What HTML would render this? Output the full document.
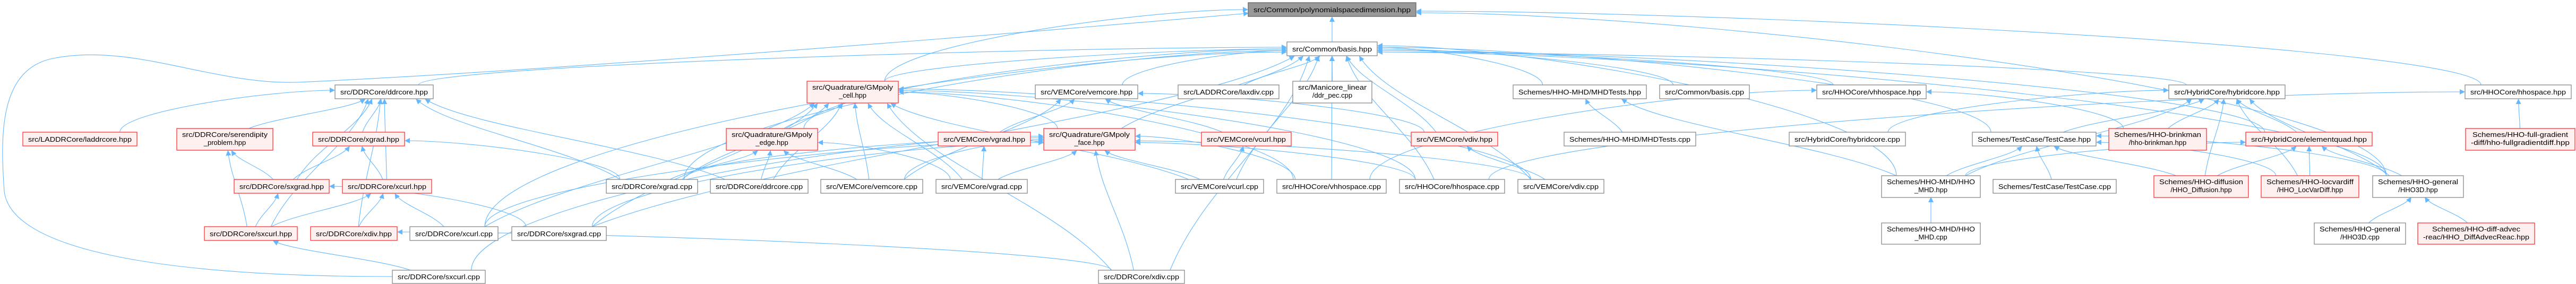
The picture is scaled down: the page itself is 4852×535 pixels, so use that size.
<!DOCTYPE html>
<html><head><meta charset="utf-8"><style>
html,body{margin:0;padding:0;background:#fff;width:4852px;height:535px;overflow:hidden}
svg{display:block}
text{font-family:"Liberation Sans",sans-serif;font-size:13px;fill:#000}
.w{fill:#fff;stroke:#888;stroke-width:1.3}
.r{fill:#fff0f0;stroke:#f33;stroke-width:1.3}
.g{fill:#999;stroke:#666;stroke-width:1.3}
#E path{fill:none;stroke:#63b8ff;stroke-width:1.1}
</style></head><body>
<svg id="S" width="4852" height="535" viewBox="0 0 4852 535" xmlns="http://www.w3.org/2000/svg">
<defs><marker id="a" viewBox="0 0 10 10" refX="9" refY="5" markerWidth="10" markerHeight="10" markerUnits="userSpaceOnUse" orient="auto"><path d="M0,0 L10,5 L0,10 z" fill="#63b8ff"/></marker></defs>
<g id="E"><path marker-end="url(#a)" d="M739,521 C300,521 20,470 8,360 C0,250 0,130 100,110 C250,80 400,160 560,155 C900,140 1600,90 2351,25"/></g>
<g id="N">
<rect class="g" x="2351" y="5" width="316" height="26"/><text x="2509" y="23" text-anchor="middle" textLength="296" lengthAdjust="spacingAndGlyphs">src/Common/polynomialspacedimension.hpp</text>
<rect class="w" x="2424" y="79" width="170" height="26"/><text x="2509" y="97" text-anchor="middle" textLength="150" lengthAdjust="spacingAndGlyphs">src/Common/basis.hpp</text>
<rect class="w" x="631" y="160" width="185" height="26"/><text x="723.5" y="178" text-anchor="middle" textLength="165" lengthAdjust="spacingAndGlyphs">src/DDRCore/ddrcore.hpp</text>
<rect class="r" x="1520" y="153" width="172" height="41"/><text x="1606" y="169" text-anchor="middle" textLength="152" lengthAdjust="spacingAndGlyphs">src/Quadrature/GMpoly</text><text x="1606" y="184" text-anchor="middle">_cell.hpp</text>
<rect class="w" x="1950" y="160" width="193" height="26"/><text x="2046.5" y="178" text-anchor="middle" textLength="173" lengthAdjust="spacingAndGlyphs">src/VEMCore/vemcore.hpp</text>
<rect class="w" x="2219" y="160" width="190" height="26"/><text x="2314" y="178" text-anchor="middle" textLength="170" lengthAdjust="spacingAndGlyphs">src/LADDRCore/laxdiv.cpp</text>
<rect class="w" x="2435" y="153" width="149" height="41"/><text x="2509.5" y="169" text-anchor="middle" textLength="129" lengthAdjust="spacingAndGlyphs">src/Manicore_linear</text><text x="2509.5" y="184" text-anchor="middle">/ddr_pec.cpp</text>
<rect class="w" x="2850" y="160" width="251" height="26"/><text x="2975.5" y="178" text-anchor="middle" textLength="231" lengthAdjust="spacingAndGlyphs">Schemes/HHO-MHD/MHDTests.hpp</text>
<rect class="w" x="3126" y="160" width="169" height="26"/><text x="3210.5" y="178" text-anchor="middle" textLength="149" lengthAdjust="spacingAndGlyphs">src/Common/basis.cpp</text>
<rect class="w" x="3422" y="160" width="206" height="26"/><text x="3525" y="178" text-anchor="middle" textLength="186" lengthAdjust="spacingAndGlyphs">src/HHOCore/vhhospace.hpp</text>
<rect class="w" x="4085" y="160" width="219" height="26"/><text x="4194.5" y="178" text-anchor="middle" textLength="199" lengthAdjust="spacingAndGlyphs">src/HybridCore/hybridcore.hpp</text>
<rect class="w" x="4643" y="160" width="200" height="26"/><text x="4743" y="178" text-anchor="middle" textLength="180" lengthAdjust="spacingAndGlyphs">src/HHOCore/hhospace.hpp</text>
<rect class="r" x="43" y="249" width="215" height="26"/><text x="150.5" y="267" text-anchor="middle" textLength="195" lengthAdjust="spacingAndGlyphs">src/LADDRCore/laddrcore.hpp</text>
<rect class="r" x="333" y="242" width="181" height="41"/><text x="423.5" y="258" text-anchor="middle" textLength="161" lengthAdjust="spacingAndGlyphs">src/DDRCore/serendipity</text><text x="423.5" y="273" text-anchor="middle">_problem.hpp</text>
<rect class="r" x="589" y="249" width="173" height="26"/><text x="675.5" y="267" text-anchor="middle" textLength="153" lengthAdjust="spacingAndGlyphs">src/DDRCore/xgrad.hpp</text>
<rect class="r" x="1368" y="242" width="172" height="41"/><text x="1454" y="258" text-anchor="middle" textLength="152" lengthAdjust="spacingAndGlyphs">src/Quadrature/GMpoly</text><text x="1454" y="273" text-anchor="middle">_edge.hpp</text>
<rect class="r" x="1767" y="249" width="174" height="26"/><text x="1854" y="267" text-anchor="middle" textLength="154" lengthAdjust="spacingAndGlyphs">src/VEMCore/vgrad.hpp</text>
<rect class="r" x="1966" y="242" width="172" height="41"/><text x="2052" y="258" text-anchor="middle" textLength="152" lengthAdjust="spacingAndGlyphs">src/Quadrature/GMpoly</text><text x="2052" y="273" text-anchor="middle">_face.hpp</text>
<rect class="r" x="2263" y="249" width="169" height="26"/><text x="2347.5" y="267" text-anchor="middle" textLength="149" lengthAdjust="spacingAndGlyphs">src/VEMCore/vcurl.hpp</text>
<rect class="r" x="2658" y="249" width="163" height="26"/><text x="2739.5" y="267" text-anchor="middle" textLength="143" lengthAdjust="spacingAndGlyphs">src/VEMCore/vdiv.hpp</text>
<rect class="w" x="2946" y="249" width="248" height="26"/><text x="3070" y="267" text-anchor="middle" textLength="228" lengthAdjust="spacingAndGlyphs">Schemes/HHO-MHD/MHDTests.cpp</text>
<rect class="w" x="3370" y="249" width="219" height="26"/><text x="3479.5" y="267" text-anchor="middle" textLength="199" lengthAdjust="spacingAndGlyphs">src/HybridCore/hybridcore.cpp</text>
<rect class="w" x="3715" y="249" width="233" height="26"/><text x="3831.5" y="267" text-anchor="middle" textLength="213" lengthAdjust="spacingAndGlyphs">Schemes/TestCase/TestCase.hpp</text>
<rect class="r" x="3972" y="242" width="184" height="41"/><text x="4064" y="258" text-anchor="middle" textLength="164" lengthAdjust="spacingAndGlyphs">Schemes/HHO-brinkman</text><text x="4064" y="273" text-anchor="middle">/hho-brinkman.hpp</text>
<rect class="r" x="4230" y="249" width="238" height="26"/><text x="4349" y="267" text-anchor="middle" textLength="218" lengthAdjust="spacingAndGlyphs">src/HybridCore/elementquad.hpp</text>
<rect class="r" x="4644" y="242" width="206" height="41"/><text x="4747" y="258" text-anchor="middle" textLength="180" lengthAdjust="spacingAndGlyphs">Schemes/HHO-full-gradient</text><text x="4747" y="273" text-anchor="middle" textLength="186" lengthAdjust="spacingAndGlyphs">-diff/hho-fullgradientdiff.hpp</text>
<rect class="r" x="441" y="338" width="179" height="26"/><text x="530.5" y="356" text-anchor="middle" textLength="159" lengthAdjust="spacingAndGlyphs">src/DDRCore/sxgrad.hpp</text>
<rect class="r" x="645" y="338" width="168" height="26"/><text x="729" y="356" text-anchor="middle" textLength="148" lengthAdjust="spacingAndGlyphs">src/DDRCore/xcurl.hpp</text>
<rect class="w" x="1142" y="338" width="172" height="26"/><text x="1228" y="356" text-anchor="middle" textLength="152" lengthAdjust="spacingAndGlyphs">src/DDRCore/xgrad.cpp</text>
<rect class="w" x="1338" y="338" width="184" height="26"/><text x="1430" y="356" text-anchor="middle" textLength="164" lengthAdjust="spacingAndGlyphs">src/DDRCore/ddrcore.cpp</text>
<rect class="w" x="1546" y="338" width="192" height="26"/><text x="1642" y="356" text-anchor="middle" textLength="172" lengthAdjust="spacingAndGlyphs">src/VEMCore/vemcore.cpp</text>
<rect class="w" x="1763" y="338" width="172" height="26"/><text x="1849" y="356" text-anchor="middle" textLength="152" lengthAdjust="spacingAndGlyphs">src/VEMCore/vgrad.cpp</text>
<rect class="w" x="2214" y="338" width="166" height="26"/><text x="2297" y="356" text-anchor="middle" textLength="146" lengthAdjust="spacingAndGlyphs">src/VEMCore/vcurl.cpp</text>
<rect class="w" x="2405" y="338" width="206" height="26"/><text x="2508" y="356" text-anchor="middle" textLength="186" lengthAdjust="spacingAndGlyphs">src/HHOCore/vhhospace.cpp</text>
<rect class="w" x="2636" y="338" width="198" height="26"/><text x="2735" y="356" text-anchor="middle" textLength="178" lengthAdjust="spacingAndGlyphs">src/HHOCore/hhospace.cpp</text>
<rect class="w" x="2859" y="338" width="162" height="26"/><text x="2940" y="356" text-anchor="middle" textLength="142" lengthAdjust="spacingAndGlyphs">src/VEMCore/vdiv.cpp</text>
<rect class="w" x="3544" y="331" width="186" height="41"/><text x="3637" y="347" text-anchor="middle" textLength="166" lengthAdjust="spacingAndGlyphs">Schemes/HHO-MHD/HHO</text><text x="3637" y="362" text-anchor="middle">_MHD.hpp</text>
<rect class="w" x="3754" y="338" width="232" height="26"/><text x="3870" y="356" text-anchor="middle" textLength="212" lengthAdjust="spacingAndGlyphs">Schemes/TestCase/TestCase.cpp</text>
<rect class="r" x="4057" y="331" width="178" height="41"/><text x="4146" y="347" text-anchor="middle" textLength="158" lengthAdjust="spacingAndGlyphs">Schemes/HHO-diffusion</text><text x="4146" y="362" text-anchor="middle">/HHO_Diffusion.hpp</text>
<rect class="r" x="4259" y="331" width="184" height="41"/><text x="4351" y="347" text-anchor="middle" textLength="164" lengthAdjust="spacingAndGlyphs">Schemes/HHO-locvardiff</text><text x="4351" y="362" text-anchor="middle">/HHO_LocVarDiff.hpp</text>
<rect class="w" x="4469" y="331" width="171" height="41"/><text x="4554.5" y="347" text-anchor="middle" textLength="151" lengthAdjust="spacingAndGlyphs">Schemes/HHO-general</text><text x="4554.5" y="362" text-anchor="middle">/HHO3D.hpp</text>
<rect class="r" x="385" y="427" width="175" height="26"/><text x="472.5" y="445" text-anchor="middle" textLength="155" lengthAdjust="spacingAndGlyphs">src/DDRCore/sxcurl.hpp</text>
<rect class="r" x="585" y="427" width="163" height="26"/><text x="666.5" y="445" text-anchor="middle" textLength="143" lengthAdjust="spacingAndGlyphs">src/DDRCore/xdiv.hpp</text>
<rect class="w" x="772" y="427" width="166" height="26"/><text x="855" y="445" text-anchor="middle" textLength="146" lengthAdjust="spacingAndGlyphs">src/DDRCore/xcurl.cpp</text>
<rect class="w" x="964" y="427" width="178" height="26"/><text x="1053" y="445" text-anchor="middle" textLength="158" lengthAdjust="spacingAndGlyphs">src/DDRCore/sxgrad.cpp</text>
<rect class="w" x="3544" y="420" width="186" height="40"/><text x="3637" y="436" text-anchor="middle" textLength="166" lengthAdjust="spacingAndGlyphs">Schemes/HHO-MHD/HHO</text><text x="3637" y="451" text-anchor="middle">_MHD.cpp</text>
<rect class="w" x="4359" y="420" width="172" height="40"/><text x="4445" y="436" text-anchor="middle" textLength="152" lengthAdjust="spacingAndGlyphs">Schemes/HHO-general</text><text x="4445" y="451" text-anchor="middle">/HHO3D.cpp</text>
<rect class="r" x="4554" y="420" width="220" height="40"/><text x="4664" y="436" text-anchor="middle" textLength="166" lengthAdjust="spacingAndGlyphs">Schemes/HHO-diff-advec</text><text x="4664" y="451" text-anchor="middle" textLength="200" lengthAdjust="spacingAndGlyphs">-reac/HHO_DiffAdvecReac.hpp</text>
<rect class="w" x="739" y="509" width="175" height="25"/><text x="826.5" y="526" text-anchor="middle" textLength="155" lengthAdjust="spacingAndGlyphs">src/DDRCore/sxcurl.cpp</text>
<rect class="w" x="2069" y="509" width="162" height="25"/><text x="2150" y="526" text-anchor="middle" textLength="142" lengthAdjust="spacingAndGlyphs">src/DDRCore/xdiv.cpp</text>
</g>
</svg>
<script>
var B={root:[2351,2667,5,31],basis:[2424,2594,79,105],ddrh:[631,816,160,186],cell:[1520,1692,153,194],vemh:[1950,2143,160,186],laxdiv:[2219,2409,160,186],pec:[2435,2584,153,194],mhdth:[2850,3101,160,186],basiscpp:[3126,3295,160,186],vhhoh:[3422,3628,160,186],hybh:[4085,4304,160,186],hhoh:[4643,4843,160,186],
laddr:[43,258,249,275],seren:[333,514,242,283],xgradh:[589,762,249,275],edge:[1368,1540,242,283],vgradh:[1767,1941,249,275],face:[1966,2138,242,283],vcurlh:[2263,2432,249,275],vdivh:[2658,2821,249,275],mhdtc:[2946,3194,249,275],hybc:[3370,3589,249,275],tch:[3715,3948,249,275],brink:[3972,4156,242,283],equad:[4230,4468,249,275],fullg:[4644,4850,242,283],
sxgradh:[441,620,338,364],xcurlh:[645,813,338,364],xgradc:[1142,1314,338,364],ddrc:[1338,1522,338,364],vemc:[1546,1738,338,364],vgradc:[1763,1935,338,364],vcurlc:[2214,2380,338,364],vhhoc:[2405,2611,338,364],hhoc:[2636,2834,338,364],vdivc:[2859,3021,338,364],mhdh:[3544,3730,331,371],tcc:[3754,3986,338,364],diff:[4057,4235,331,371],locvar:[4259,4443,331,371],hho3dh:[4469,4640,331,371],
sxcurlh:[385,560,427,453],xdivh:[585,748,427,453],xcurlc:[772,938,427,453],sxgradc:[964,1142,427,453],mhdc:[3544,3730,420,460],hho3dc:[4359,4531,420,460],dar:[4554,4774,420,460],sxcurlc:[739,914,509,534],xdivc:[2069,2231,509,534]};
var P={root:"basis cell hhoh hho3dh",basis:"ddrh cell vemh laxdiv pec mhdth basiscpp vhhoh hybh face vhhoc hhoc vdivc xdivc mhdh tch edge xgradc xcurlc sxgradc vdivh vcurlc equad hho3dh",
ddrh:"laddr seren xgradh sxgradh xcurlh xdivh sxcurlh ddrc xgradc",seren:"sxgradh sxcurlh",xgradh:"sxgradh xcurlh xgradc",sxgradh:"sxcurlh sxgradc",xcurlh:"sxcurlh xdivh xcurlc",sxcurlh:"sxcurlc",xdivh:"xdivc",
cell:"edge face vemc vgradc xgradc ddrc xcurlc sxgradc vcurlc vdivc hhoc vhhoc xdivc",edge:"xgradc ddrc vemc vgradc",face:"vgradc vemc xcurlc sxgradc sxcurlc xdivc vcurlc vdivc hhoc vhhoc xgradc",
vemh:"vgradh vcurlh vdivh vemc",vgradh:"vgradc",vcurlh:"vcurlc",vdivh:"vdivc",mhdth:"mhdtc mhdh",vhhoh:"vhhoc brink",hybh:"hybc tch equad diff locvar hho3dh mhdh brink",hhoh:"fullg hhoc",
tch:"mhdh tcc diff locvar hho3dh",equad:"diff locvar hho3dh mhdh",hho3dh:"hho3dc dar",mhdh:"mhdc"};
var g=document.getElementById("E"),s="";
function cl(v,a){return Math.max(-a,Math.min(a,v));}
for(var p in P){var L=P[p].split(" "),n=0;L.forEach(function(c){var q=B[p],r=B[c];if(!q||!r)return;n++;
var pc=(q[0]+q[1])/2,cc=(r[0]+r[1])/2,pw=q[1]-q[0],cw=r[1]-r[0];
var x1=cc+cl((pc-cc)*0.15,cw*0.35),y1=r[2];
var x2,y2,dx=cc-pc,dy=r[2]-q[3];
if(Math.abs(dx)>4*dy+pw){x2=dx<0?q[0]-1:q[1]+1;y2=(q[2]+q[3])/2+((n%5)-2)*3;
s+='<path marker-end="url(#a)" d="M'+x1+','+y1+' C'+x1+','+(y1-(y1-y2)*0.5)+' '+(x2+(x1-x2)*0.3)+','+y2+' '+x2+','+y2+'"/>';return;}
x2=pc+cl(dx*0.12,pw*0.42);y2=q[3]+1;
var d=y1-y2;
s+='<path marker-end="url(#a)" d="M'+x1+','+y1+' C'+(x1+(x2-x1)*0.25)+','+(y1-d*0.4)+' '+(x2+(x1-x2)*0.15)+','+(y2+d*0.35)+' '+x2+','+y2+'"/>';});}
g.insertAdjacentHTML("beforeend",s);
</script>
</body></html>
